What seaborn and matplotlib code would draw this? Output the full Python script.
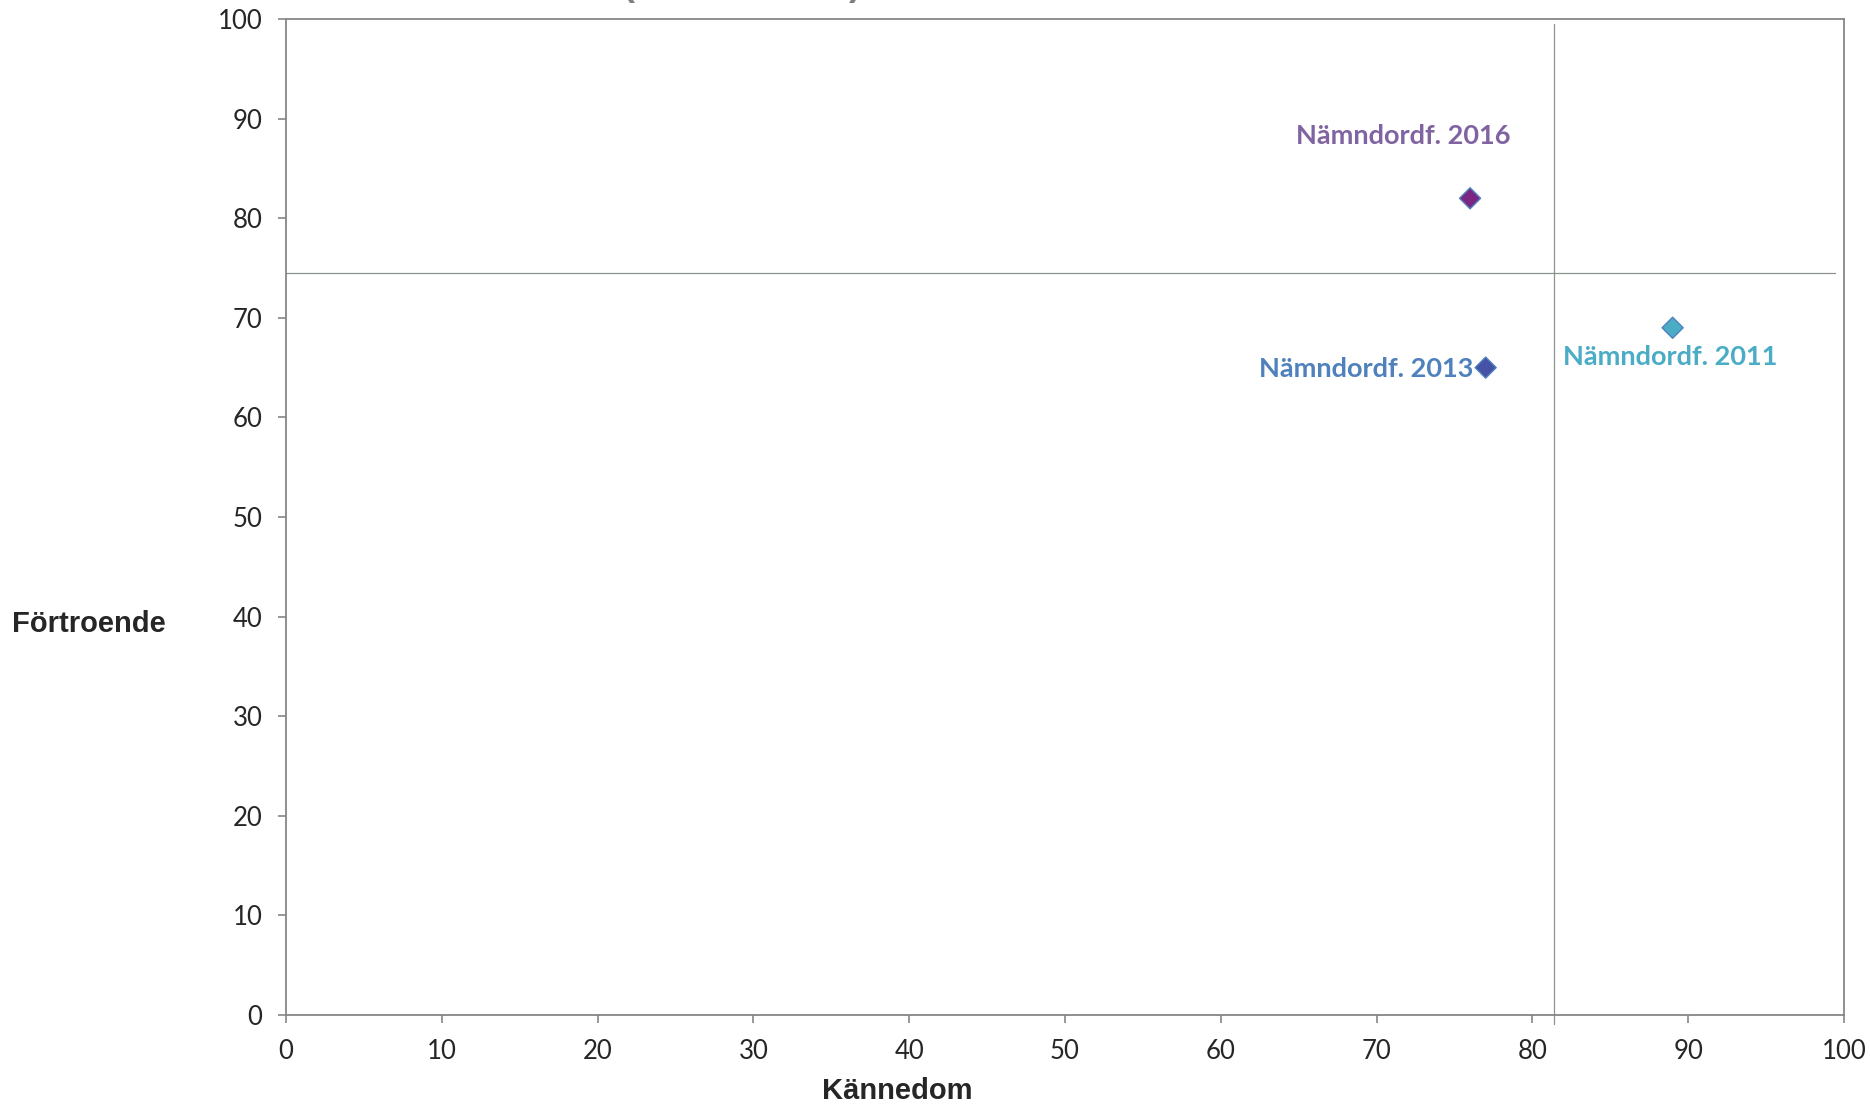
import pandas as pd
import matplotlib
matplotlib.use("Agg")
import matplotlib.pyplot as plt
import seaborn as sns

# Data
etiketter = ["Nämndordf. 2011", "Nämndordf. 2013", "Nämndordf. 2016"]
kannedom = [89, 77, 76]
fortroende = [69, 65, 82]
fyllnad = ["#4BACC6", "#4652A6", "#7B2683"]
textfarg = ["#4BACC6", "#4F81BD", "#8064A2"]
# reference lines (quadrant cross)
ref_x = 81.4
ref_y = 74.5

df = pd.DataFrame({"etikett": etiketter, "kannedom": kannedom, "fortroende": fortroende})

sns.set_style("white")
plt.rcParams["font.family"] = ["Lato", "DejaVu Sans"]

fig = plt.figure(figsize=(18.7, 11.06), dpi=100)
ax = fig.add_axes([0.1529, 0.0823, 0.8332, 0.9005])

sns.scatterplot(data=df, x="kannedom", y="fortroende", hue="etikett",
                palette=dict(zip(etiketter, fyllnad)), marker="D", s=115,
                edgecolor="#4F81BD", linewidth=1.0, legend=False, ax=ax, zorder=3)

# quadrant lines
ax.plot([0, 99.4], [ref_y, ref_y], color="#8a948a", lw=0.9, zorder=1, clip_on=False)
ax.plot([ref_x, ref_x], [99.5, -0.9], color="#8a948a", lw=0.9, zorder=1, clip_on=False)

# labels next to points
forskjut = {
    "Nämndordf. 2016": ((-48, 45), "center", "center"),
    "Nämndordf. 2013": ((-9, -1), "right", "center"),
    "Nämndordf. 2011": ((-2, -21), "center", "center"),
}
for lab, x, y, c in zip(etiketter, kannedom, fortroende, textfarg):
    off, ha, va = forskjut[lab]
    ax.annotate(lab, (x, y), xytext=off, textcoords="offset points",
                ha=ha, va=va, color=c, fontsize=19.5, fontweight="bold")

ax.set_xlim(0, 100)
ax.set_ylim(0, 100)
ax.set_xticks(range(0, 101, 10))
ax.set_yticks(range(0, 101, 10))
ax.tick_params(axis="both", direction="out", length=6, width=1.2, color="#868686",
               labelsize=18.5, pad=11, bottom=True, left=True)

for sp in ax.spines.values():
    sp.set_color("#868686")
    sp.set_linewidth(1.3)

ax.set_xlabel("")
ax.set_ylabel("")
fig.text(0.4797, 0.0135, "Kännedom", ha="center", va="center", fontsize=21,
         fontweight="bold", family=["Liberation Sans", "DejaVu Sans"])
fig.text(0.0064, 0.4358, "Förtroende", ha="left", va="center", fontsize=21,
         fontweight="bold", family=["Liberation Sans", "DejaVu Sans"])

# chart title, cut off at the top edge of the image (only the parentheses peek in)
for tx, ch in [(628 / 1870, "("), (855 / 1870, ")")]:
    fig.text(tx, 0.9975, ch, ha="center", va="bottom", fontsize=26,
             fontweight="bold", color="#7f7f7f",
             family=["Liberation Sans", "DejaVu Sans"])

fig.savefig("out.png", dpi=100, facecolor="white")
